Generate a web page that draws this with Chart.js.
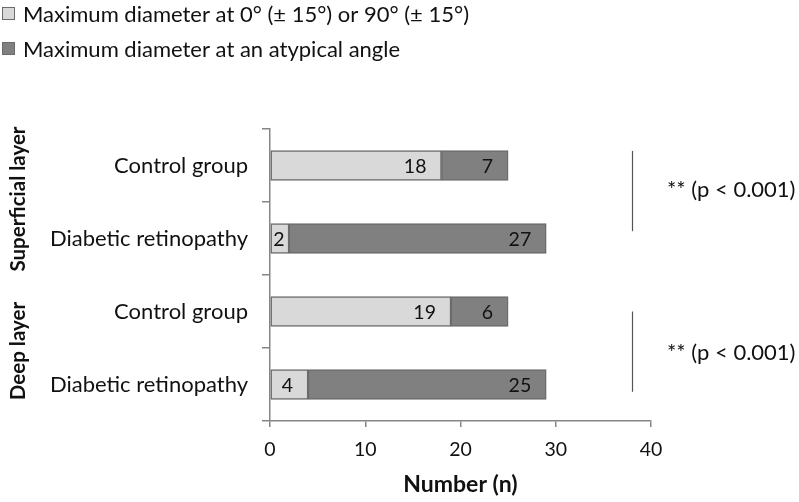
<!DOCTYPE html>
<html lang="en">
<head>
  <meta charset="UTF-8" />
  <title>Maximum diameter angle</title>
  <script src="https://cdn.jsdelivr.net/npm/chart.js"></script>
  <style>
    html, body { margin: 0; padding: 0; background: #fff; }
    #wrap { width: 799px; height: 502px; position: relative; }
  </style>
</head>
<body>
<div id="wrap"><canvas id="chart"></canvas></div>
<script>
  // data
  const categories = ['Control group', 'Diabetic retinopathy', 'Control group', 'Diabetic retinopathy'];
  const groups = ['Superficial layer', 'Deep layer'];
  const typicalAngle = [18, 2, 19, 4];
  const atypicalAngle = [7, 27, 6, 25];
  const seriesNames = ['Maximum diameter at 0° (± 15°) or 90° (± 15°)', 'Maximum diameter at an atypical angle'];
  const xTicks = [0, 10, 20, 30, 40];
  const pLabels = ['** (p < 0.001)', '** (p < 0.001)'];

  const FONT = 'Lato, "Open Sans", sans-serif';
  const lightFill = '#d9d9d9';
  const darkFill = '#808080';
  const edge = '#6b6b6b';

  // draws legend, value labels, group labels and p-value brackets
  const extras = {
    id: 'extras',
    afterDatasetsDraw(chart) {
      const ctx = chart.ctx;
      const xs = chart.scales.x, ys = chart.scales.y;
      ctx.save();

      // legend
      ctx.font = '22px ' + FONT;
      ctx.textBaseline = 'middle';
      ctx.textAlign = 'left';
      [lightFill, darkFill].forEach((c, i) => {
        const y = 14 + i * 35;
        ctx.fillStyle = c;
        ctx.strokeStyle = edge;
        ctx.lineWidth = 1;
        ctx.fillRect(2.5, y - 6.5, 12, 12);
        ctx.strokeRect(2.5, y - 6.5, 12, 12);
        ctx.fillStyle = '#111';
        ctx.fillText(seriesNames[i], 23, y + 1);
      });

      // value labels inside the segments
      ctx.font = '19.5px ' + FONT;
      ctx.fillStyle = '#111';
      chart.data.datasets.forEach((ds, di) => {
        chart.getDatasetMeta(di).data.forEach((bar, i) => {
          const txt = String(ds.data[i]);
          const w = ctx.measureText(txt).width;
          const start = bar.base, end = bar.x;
          if (end - start - 15 - w < 3) {
            ctx.textAlign = 'center';
            ctx.fillText(txt, (start + end) / 2 - 1, bar.y + 1);
          } else {
            ctx.textAlign = 'right';
            ctx.fillText(txt, end - 15, bar.y + 1);
          }
        });
      });

      // rotated group labels
      ctx.font = 'bold 20.5px ' + FONT;
      ctx.textAlign = 'center';
      groups.forEach((g, gi) => {
        const yc = (ys.getPixelForValue(gi * 2) + ys.getPixelForValue(gi * 2 + 1)) / 2;
        ctx.save();
        ctx.translate(18, yc + (gi === 0 ? -3 : 3));
        ctx.rotate(-Math.PI / 2);
        ctx.fillText(g, 0, 0);
        ctx.restore();
      });

      // significance brackets
      const spans = [[-0.2, 0.9], [2.0, 3.1]];
      const textAt = [0.33, 2.57];
      const lx = Math.round(xs.getPixelForValue(38)) + 0.5;
      ctx.strokeStyle = '#555';
      ctx.lineWidth = 1.2;
      ctx.font = '22px ' + FONT;
      ctx.textAlign = 'left';
      spans.forEach((s, i) => {
        ctx.beginPath();
        ctx.moveTo(lx, ys.getPixelForValue(s[0]));
        ctx.lineTo(lx, ys.getPixelForValue(s[1]));
        ctx.stroke();
        ctx.fillText(pLabels[i], 667, ys.getPixelForValue(textAt[i]));
      });

      ctx.restore();
    }
  };

  new Chart(document.getElementById('chart'), {
    type: 'bar',
    data: {
      labels: categories,
      datasets: [
        {
          label: seriesNames[0],
          data: typicalAngle,
          backgroundColor: lightFill,
          borderColor: edge,
          borderWidth: 1.5,
          borderSkipped: false,
          barThickness: 30
        },
        {
          label: seriesNames[1],
          data: atypicalAngle,
          backgroundColor: darkFill,
          borderColor: edge,
          borderWidth: 1.5,
          borderSkipped: false,
          barThickness: 30
        }
      ]
    },
    options: {
      indexAxis: 'y',
      responsive: true,
      maintainAspectRatio: false,
      animation: false,
      layout: { padding: { top: 129, right: 148, left: 0, bottom: 0 } },
      plugins: {
        legend: { display: false },
        tooltip: { enabled: false }
      },
      scales: {
        x: {
          stacked: true,
          min: 0,
          max: 40,
          afterBuildTicks: (s) => { s.ticks = xTicks.map(v => ({ value: v })); },
          afterFit: (s) => { s.height = 81; },
          grid: { drawOnChartArea: false, tickLength: 6, color: '#868686', lineWidth: 1.5 },
          border: { color: '#868686', width: 1.5 },
          ticks: { color: '#111', font: { family: FONT, size: 19.5 }, padding: 11 },
          title: {
            display: true,
            text: 'Number (n)',
            color: '#111',
            font: { family: FONT, size: 23, weight: 'bold' },
            padding: { top: 2 }
          }
        },
        y: {
          stacked: true,
          afterFit: (s) => { s.width = 270; },
          grid: { offset: true, drawOnChartArea: false, tickLength: 8, color: '#868686', lineWidth: 1.5 },
          border: { color: '#868686', width: 1.5 },
          ticks: { color: '#111', font: { family: FONT, size: 22 }, padding: 14 }
        }
      }
    },
    plugins: [extras]
  });
</script>
</body>
</html>
